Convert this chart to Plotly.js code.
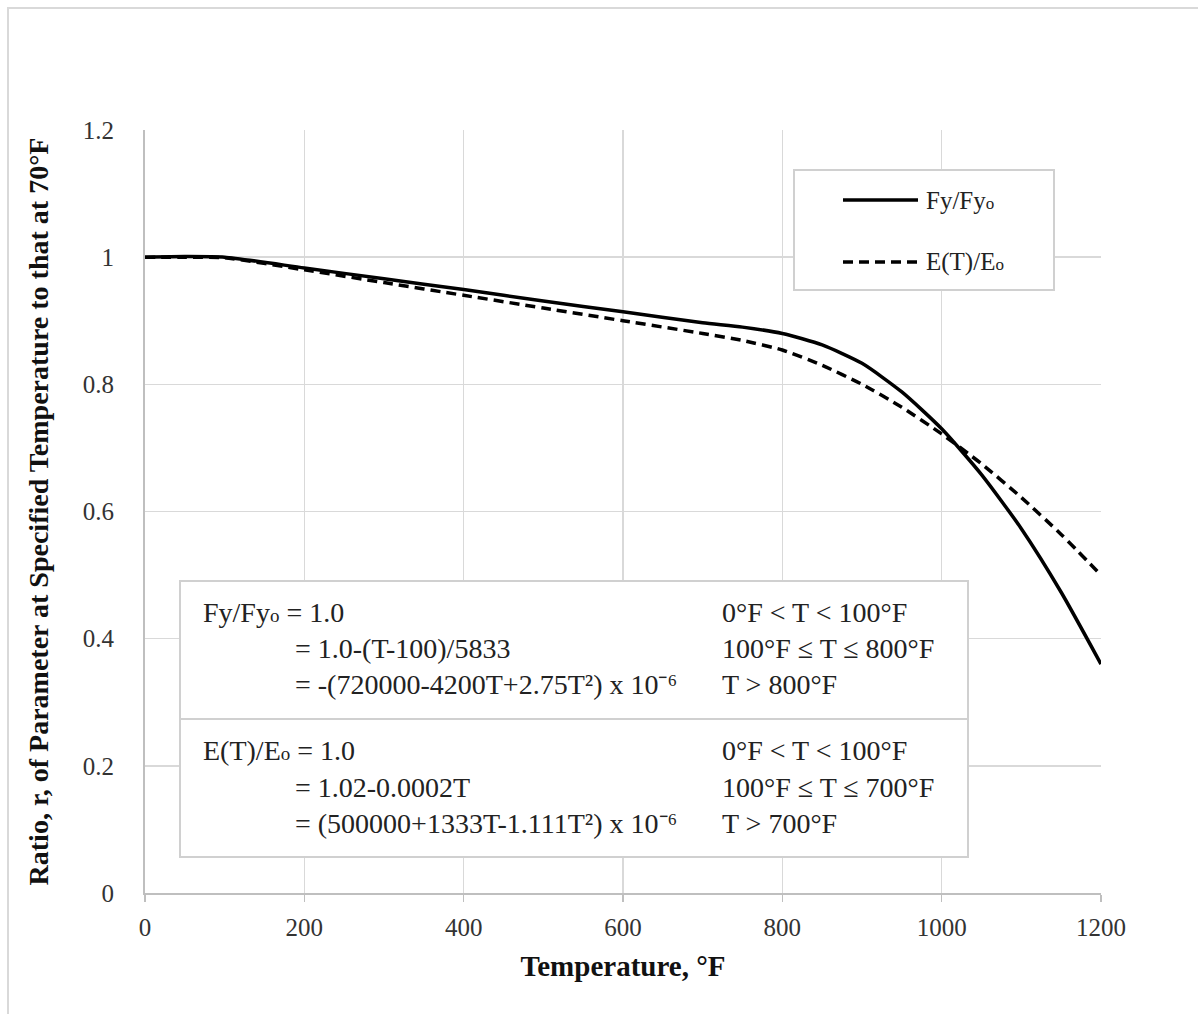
<!DOCTYPE html>
<html>
<head>
<meta charset="utf-8">
<script src="https://cdn.plot.ly/plotly-3.0.1.min.js"></script>
<style>html,body{margin:0;padding:0;background:#fff;}#chart{width:1198px;height:1014px;}</style>
</head>
<body>
<div id="chart"></div>
<script>
// Data
const temperature = [0, 50, 100, 200, 300, 400, 500, 600, 700, 750, 800, 850, 900, 950, 1000, 1050, 1100, 1150, 1200];
const fyRatio = [1.000, 1.001, 1.000, 0.983, 0.966, 0.949, 0.931, 0.914, 0.897, 0.890, 0.880, 0.862, 0.833, 0.788, 0.730, 0.658, 0.573, 0.473, 0.360];
const eRatio  = [1.000, 1.000, 0.999, 0.980, 0.960, 0.940, 0.920, 0.900, 0.880, 0.869, 0.854, 0.830, 0.800, 0.764, 0.722, 0.675, 0.622, 0.564, 0.500];
const seriesNames = ["Fy/Fy<span style='font-size:17px'>o</span>", "E(T)/E<span style='font-size:17px'>o</span>"];
const xTicks = [0, 200, 400, 600, 800, 1000, 1200];
const yTicks = [0, 0.2, 0.4, 0.6, 0.8, 1, 1.2];
const formulaLeft = [
  "Fy/Fy<span style='font-size:19px'>o</span> = 1.0",
  "= 1.0-(T-100)/5833",
  "= -(720000-4200T+2.75T²) x 10⁻⁶",
  "E(T)/E<span style='font-size:19px'>o</span> = 1.0",
  "= 1.02-0.0002T",
  "= (500000+1333T-1.111T²) x 10⁻⁶"
];
const formulaRange = [
  "0°F < T < 100°F",
  "100°F ≤ T ≤ 800°F",
  "T > 800°F",
  "0°F < T < 100°F",
  "100°F ≤ T ≤ 700°F",
  "T > 700°F"
];

// layout geometry (pixels of the page)
const L = 145, R = 1101, T = 130, B = 893;
const px = v => (v - L) / (R - L);
const py = v => (B - v) / (B - T);
const serif = "Liberation Serif, Times New Roman, serif";

const traces = [
  {x: temperature, y: fyRatio, mode: "lines", name: seriesNames[0], showlegend: false,
   line: {color: "#000", width: 3.5, shape: "spline", smoothing: 0.6}},
  {x: temperature, y: eRatio, mode: "lines", name: seriesNames[1], showlegend: false,
   line: {color: "#000", width: 3.5, dash: "10px,6px", shape: "spline", smoothing: 0.6}}
];

const shapes = [
  // outer chart border
  {type: "rect", xref: "paper", yref: "paper", x0: px(8), x1: px(1210), y0: py(8), y1: py(1030),
   line: {color: "#d9d9d9", width: 2}, fillcolor: "rgba(0,0,0,0)", layer: "below"},
  // legend box
  {type: "rect", xref: "paper", yref: "paper", x0: px(794), x1: px(1054), y0: py(170), y1: py(290),
   line: {color: "#d0d0d0", width: 2}, fillcolor: "#fff", layer: "above"},
  {type: "line", xref: "paper", yref: "paper", x0: px(843), x1: px(918), y0: py(200), y1: py(200),
   line: {color: "#000", width: 3.5}, layer: "above"},
  {type: "line", xref: "paper", yref: "paper", x0: px(843), x1: px(918), y0: py(262), y1: py(262),
   line: {color: "#000", width: 3.5, dash: "10px,6px"}, layer: "above"},
  // formula box
  {type: "rect", xref: "paper", yref: "paper", x0: px(180), x1: px(968), y0: py(581), y1: py(857),
   line: {color: "#d0d0d0", width: 2}, fillcolor: "#fff", layer: "above"},
  {type: "line", xref: "paper", yref: "paper", x0: px(180), x1: px(968), y0: py(719), y1: py(719),
   line: {color: "#d0d0d0", width: 2}, layer: "above"}
];

const rowY = [612, 648, 685, 750, 787, 823];
const leftX = [201, 293, 293, 201, 293, 293];
const annotations = [];
formulaLeft.forEach((t, i) => {
  annotations.push({xref: "paper", yref: "paper", x: px(leftX[i]), y: py(rowY[i]), xanchor: "left", yanchor: "middle",
    text: t, showarrow: false, font: {family: serif, size: 28, color: "#222"}});
});
formulaRange.forEach((t, i) => {
  annotations.push({xref: "paper", yref: "paper", x: px(720), y: py(rowY[i]), xanchor: "left", yanchor: "middle",
    text: t, showarrow: false, font: {family: serif, size: 28, color: "#222"}});
});
seriesNames.forEach((t, i) => {
  annotations.push({xref: "paper", yref: "paper", x: px(924), y: py(i === 0 ? 200 : 262), xanchor: "left", yanchor: "middle",
    text: t, showarrow: false, font: {family: serif, size: 25, color: "#222"}});
});

const layout = {
  width: 1198, height: 1014,
  margin: {l: L, r: 1198 - R, t: T, b: 1014 - B},
  paper_bgcolor: "#fff", plot_bgcolor: "#fff",
  showlegend: false,
  font: {family: serif, color: "#222"},
  xaxis: {
    range: [0, 1200], tickvals: xTicks, ticktext: xTicks.map(String),
    showgrid: true, gridcolor: "#d9d9d9", gridwidth: 1.5,
    showline: true, linecolor: "#bfbfbf", linewidth: 2,
    ticks: "outside", ticklen: 7, tickcolor: "#bfbfbf", tickwidth: 1.5,
    zeroline: false, ticklabelstandoff: 4,
    tickfont: {family: serif, size: 25, color: "#333"},
    title: {text: "<b>Temperature, °F</b>", font: {family: serif, size: 29, color: "#111"}, standoff: 16}
  },
  yaxis: {
    range: [0, 1.2], tickvals: yTicks, ticktext: yTicks.map(String),
    showgrid: true, gridcolor: "#d9d9d9", gridwidth: 1.5,
    showline: true, linecolor: "#bfbfbf", linewidth: 2,
    ticks: "", zeroline: false, ticklabelstandoff: 24,
    tickfont: {family: serif, size: 25, color: "#333"},
    title: {text: "<b>Ratio, r, of Parameter at Specified Temperature to that at 70°F</b>", font: {family: serif, size: 28, color: "#111"}, standoff: 26}
  },
  shapes: shapes,
  annotations: annotations
};

Plotly.newPlot("chart", traces, layout, {displayModeBar: false, staticPlot: true});
</script>
</body>
</html>
